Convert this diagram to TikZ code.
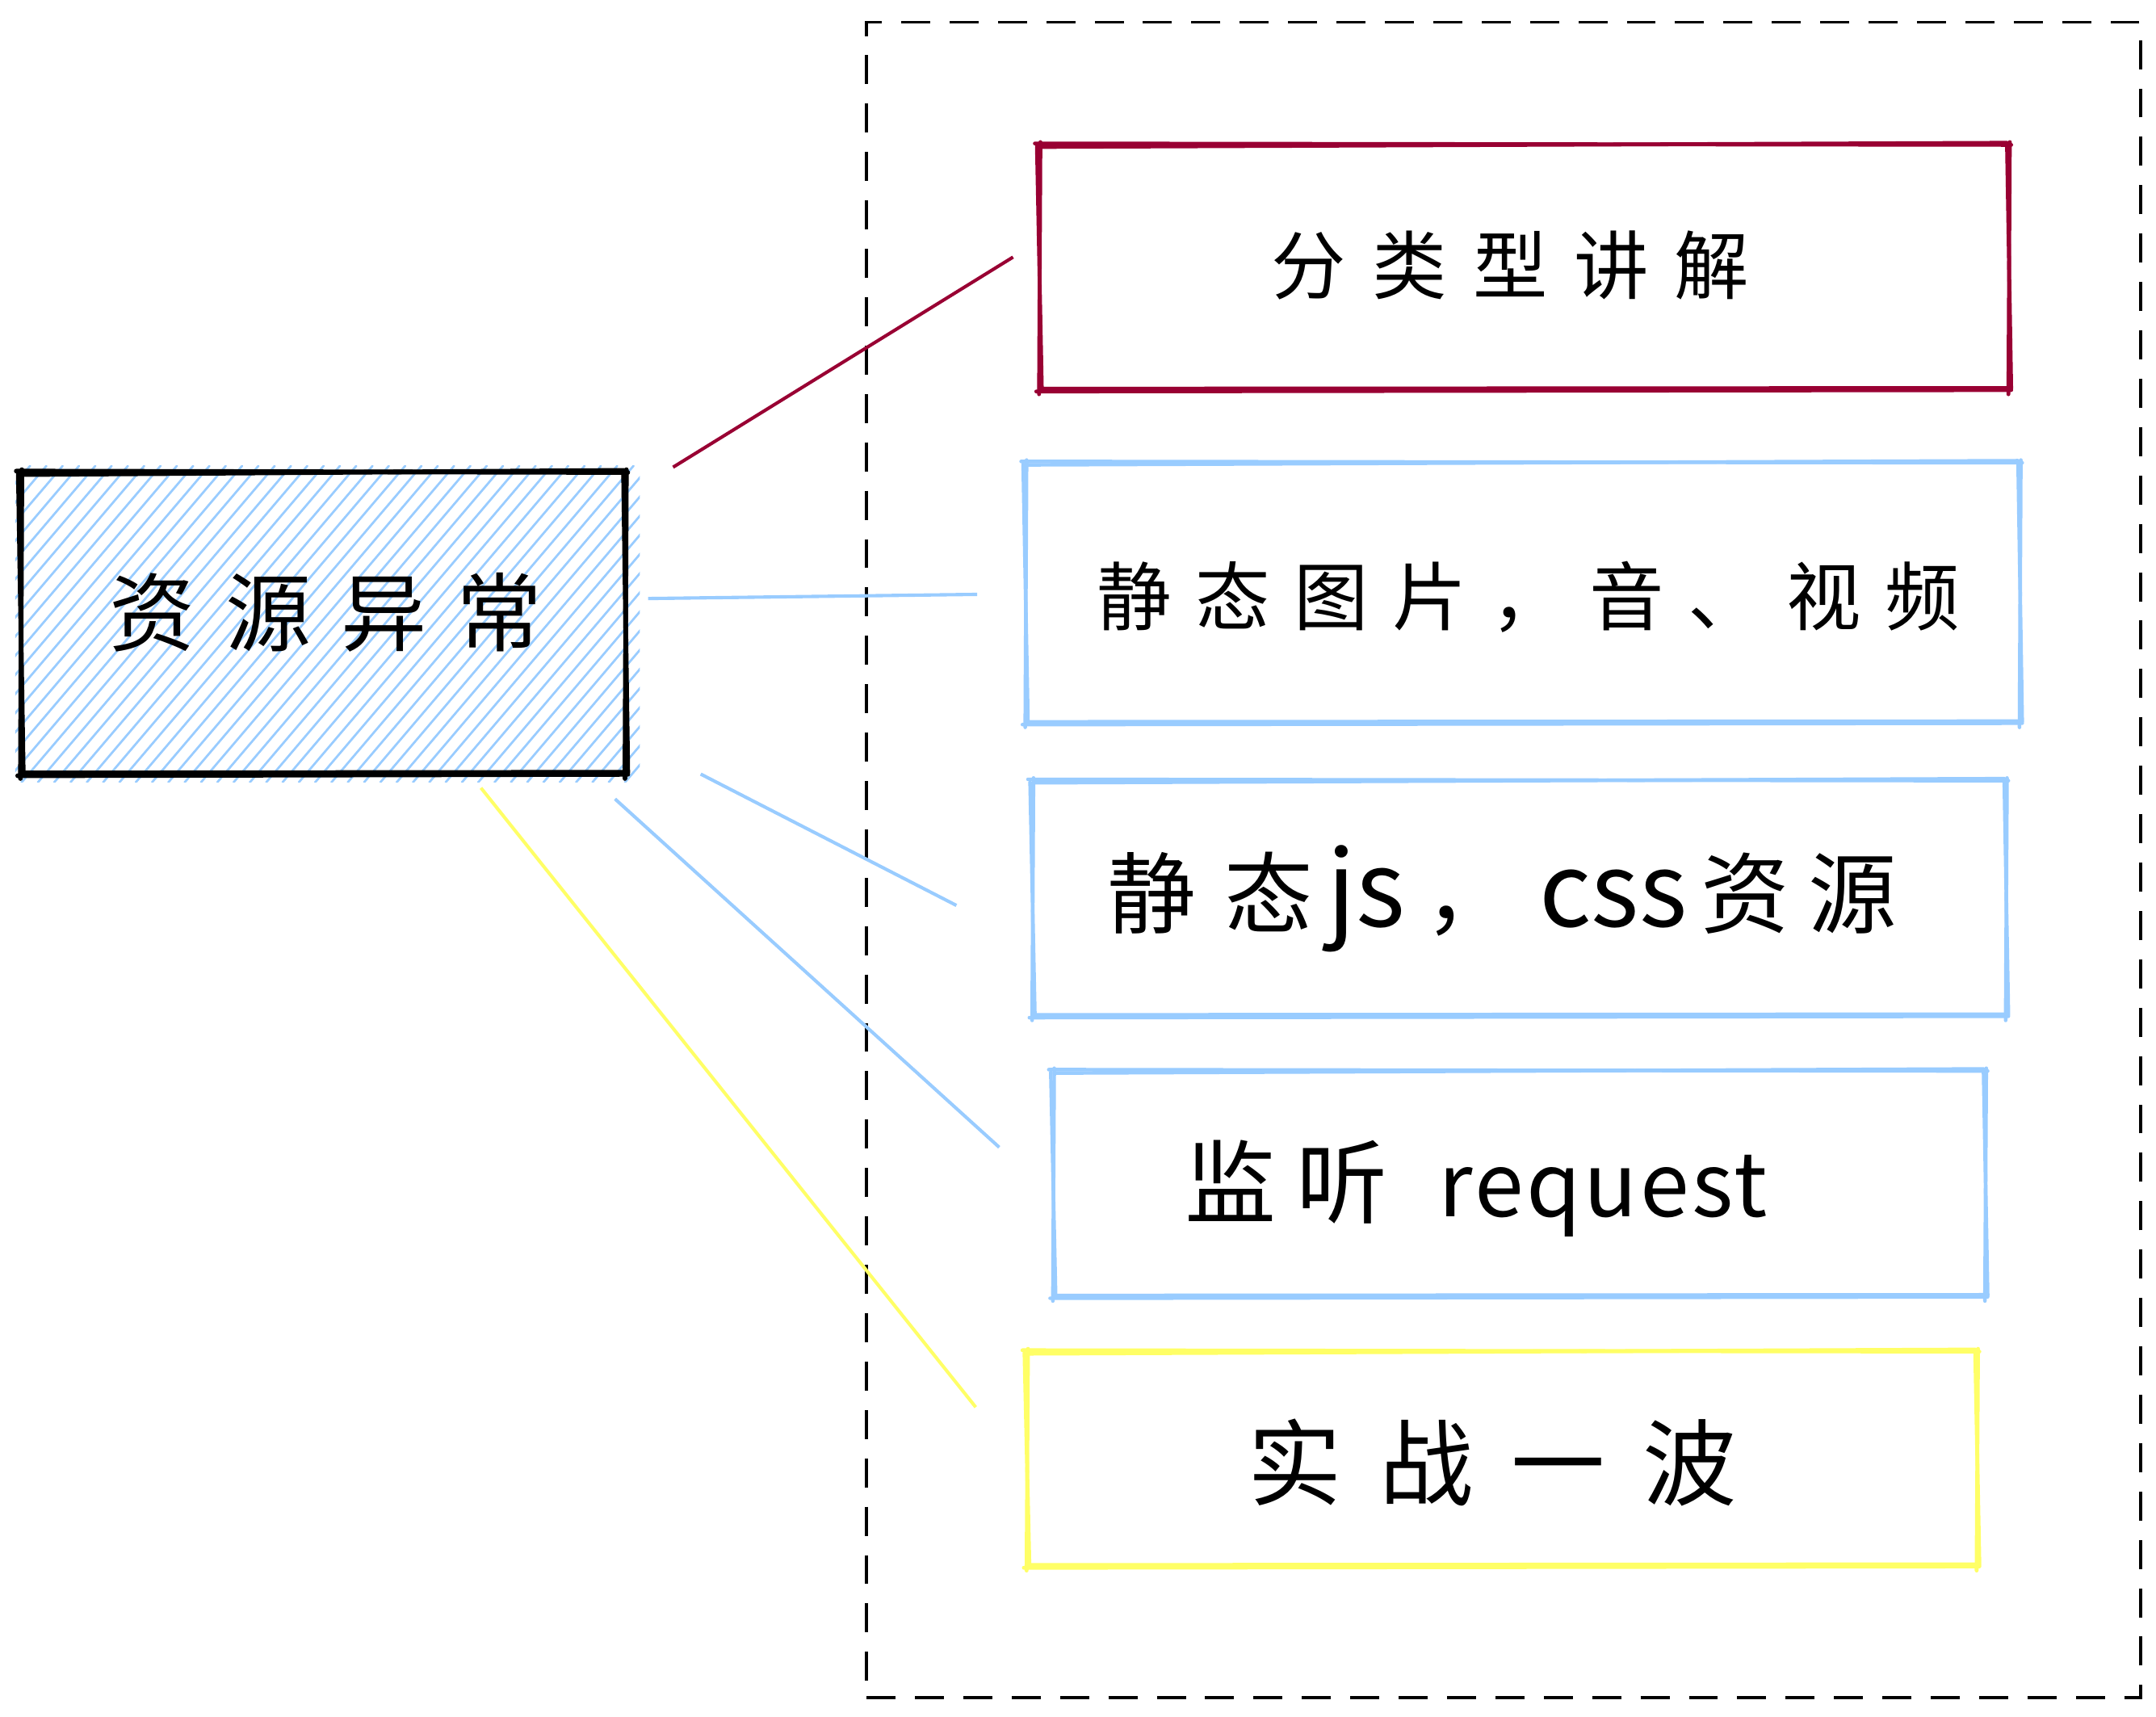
\documentclass[tikz,border=0pt]{standalone}
\usepackage{fontspec}
\newfontfamily\cjk{Noto Sans CJK SC}
\newfontfamily\lsA[LetterSpace=35]{Noto Sans CJK SC}
\newfontfamily\lsB[LetterSpace=32]{Noto Sans CJK SC}
\newfontfamily\lsD[LetterSpace=22]{Noto Sans CJK SC}
\newfontfamily\lsE[LetterSpace=3]{Noto Sans CJK SC}
\newfontfamily\lsF[LetterSpace=40]{Noto Sans CJK SC}
\usetikzlibrary{calc}
\definecolor{crimson}{HTML}{990033}
\definecolor{skyblue}{HTML}{99CCFF}
\definecolor{lemon}{HTML}{FFFF66}
\tikzset{
  boxnode/.style={draw=none, inner sep=0pt, minimum width=#1},
  blackedge/.style={draw=black, line width=3.4pt, line cap=round},
  crimsonedge/.style={draw=crimson, line width=2.8pt, line cap=round},
  blueedge/.style={draw=skyblue, line width=2.6pt, line cap=round},
  yellowedge/.style={draw=lemon, line width=2.8pt, line cap=round},
  hach/.style={draw=skyblue, line width=1.6pt, line cap=round},
  crimsonlink/.style={draw=crimson, line width=2.4pt},
  bluelink/.style={draw=skyblue, line width=2.4pt},
  yellowlink/.style={draw=lemon, line width=2.4pt},
  groupframe/.style={draw=black, line width=2.2pt, dash pattern=on 21pt off 14pt, inner sep=0pt},
  txt/.style={inner sep=0pt, text=black, anchor=center}
}
\newcommand\rbox[2]{%
  \draw[#2] ([xshift=-3pt,yshift=1pt]#1.north west) -- ([xshift=2pt,yshift=0pt]#1.north east);
  \draw[#2] ([xshift=1pt,yshift=-1.5pt]#1.north west) -- ([xshift=-1pt,yshift=1.5pt]#1.north east);
  \draw[#2] ([xshift=1pt,yshift=2pt]#1.north east) -- ([xshift=0pt,yshift=-3pt]#1.south east);
  \draw[#2] ([xshift=-1pt,yshift=-1pt]#1.north east) -- ([xshift=2pt,yshift=1pt]#1.south east);
  \draw[#2] ([xshift=2pt,yshift=0pt]#1.south east) -- ([xshift=-2pt,yshift=-1pt]#1.south west);
  \draw[#2] ([xshift=-1pt,yshift=1.5pt]#1.south east) -- ([xshift=1pt,yshift=1pt]#1.south west);
  \draw[#2] ([xshift=0pt,yshift=-3pt]#1.south west) -- ([xshift=1pt,yshift=2pt]#1.north west);
  \draw[#2] ([xshift=2pt,yshift=1pt]#1.south west) -- ([xshift=-1.5pt,yshift=-1pt]#1.north west);
}
\begin{document}
\begin{tikzpicture}[x=1pt,y=-1pt]
\useasboundingbox[fill=white] (0,0) rectangle (1560,1242);

% group frame
\node[groupframe, minimum width=922pt, minimum height=1212pt] (grp) at (1088,622) {};

% source box with hachure
\node[boxnode=437pt, minimum height=218pt] (src) at (233.5,451) {};
\begin{scope}
  \clip (11,337) rectangle (463,566);
  \foreach \i in {0,...,56} {
    \draw[hach] (\i*11.8-195+10,566) -- (\i*11.8+10,337);
  }
\end{scope}
\rbox{src}{blackedge}
\node[txt] (t0) at (236,443) {\lsA\fontsize{62pt}{62pt}\selectfont 资源异常};

% right boxes
\node[boxnode=701pt, minimum height=177pt] (b1) at (1102.5,193.5) {};
\node[boxnode=719pt, minimum height=188pt] (b2) at (1101.5,429) {};
\node[boxnode=704pt, minimum height=170pt] (b3) at (1099,650) {};
\node[boxnode=674pt, minimum height=163pt] (b4) at (1099,856.5) {};
\node[boxnode=687pt, minimum height=155pt] (b5) at (1086.5,1055.5) {};
\rbox{b1}{crimsonedge}
\rbox{b2}{blueedge}
\rbox{b3}{blueedge}
\rbox{b4}{blueedge}
\rbox{b5}{yellowedge}

\node[txt] (t1) at (1093,192) {\lsA\fontsize{54pt}{54pt}\selectfont 分类型讲解};
\node[txt] (t2) at (1106,432) {\lsB\fontsize{54pt}{54pt}\selectfont 静态图片，音、视频};
\node[txt] (t3) at (1087,650) {\cjk\fontsize{64pt}{64pt}\selectfont 静\hspace{21pt}态\hspace{10pt}{\fontsize{76pt}{76pt}\selectfont js}\hspace{14pt}，\hspace{19pt}{\fontsize{74pt}{74pt}\selectfont css}\hspace{10pt}资\hspace{14pt}源};
\node[txt] (t4) at (1068,860) {{\lsD\fontsize{66pt}{66pt}\selectfont 监听}\hspace{37pt}{\lsE\fontsize{64pt}{64pt}\selectfont request}};
\node[txt] (t5) at (1080,1058) {\lsF\fontsize{68pt}{68pt}\selectfont 实战一波};

% connectors
\coordinate (c1a) at (487,338);  \coordinate (c1b) at (733,186);
\coordinate (c2a) at (469,433);  \coordinate (c2b) at (707,430);
\coordinate (c3a) at (507,560);  \coordinate (c3b) at (692,655);
\coordinate (c4a) at (445,578);  \coordinate (c4b) at (723,830);
\coordinate (c5a) at (348,570);  \coordinate (c5b) at (706,1018);
\draw[crimsonlink] (c1a) -- (c1b);
\draw[bluelink] (c2a) -- (c2b);
\draw[bluelink] (c3a) -- (c3b);
\draw[bluelink] (c4a) -- (c4b);
\draw[yellowlink] (c5a) -- (c5b);
\end{tikzpicture}
\end{document}
